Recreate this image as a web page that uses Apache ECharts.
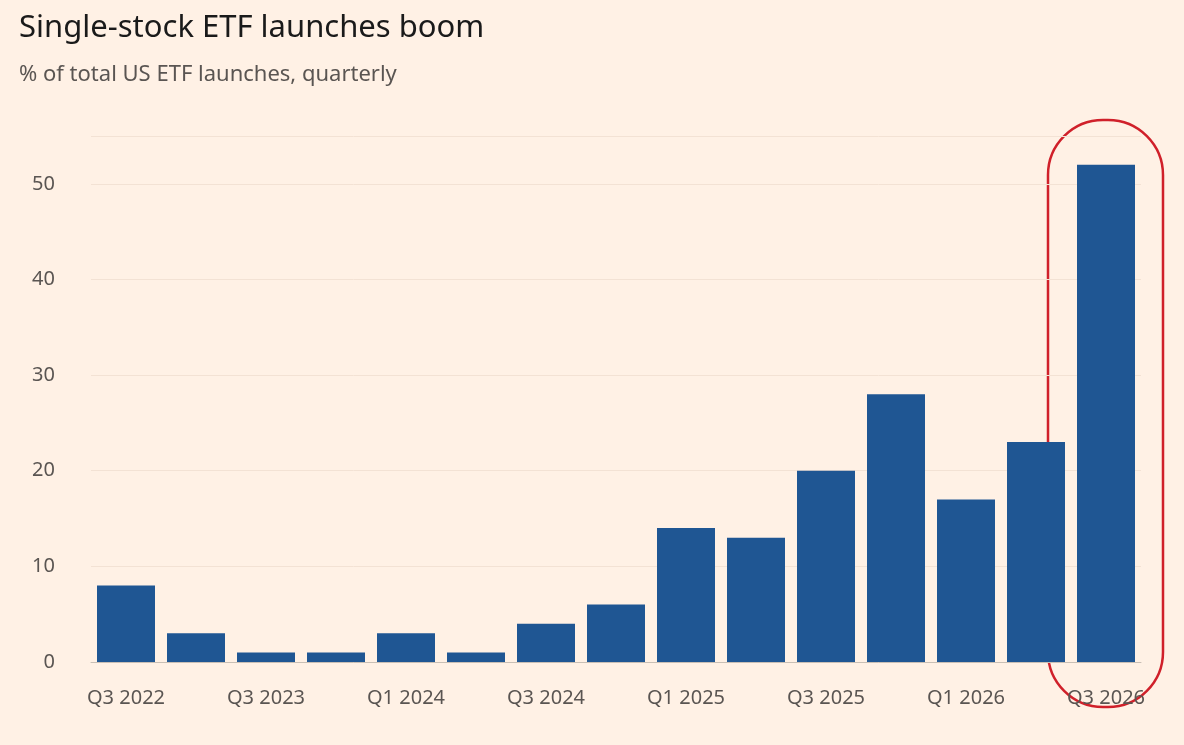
<!DOCTYPE html>
<html><head><meta charset="utf-8">
<script src="https://cdn.jsdelivr.net/npm/echarts@6/dist/echarts.min.js"></script>
<style>html,body{margin:0;background:#FFF1E5}#c{width:1184px;height:745px}</style>
</head><body><div id="c"></div>
<script>
const categories=["Q3 2022","Q1 2023","Q3 2023","Q4 2023","Q1 2024","Q2 2024","Q3 2024","Q4 2024","Q1 2025","Q2 2025","Q3 2025","Q4 2025","Q1 2026","Q2 2026","Q3 2026"];
const values=[8,3,1,1,3,1,4,6,14,13,20,28,17,23,52];
const yTicks=[0,10,20,30,40,50];
const chart=echarts.init(document.getElementById('c'));
chart.setOption({
backgroundColor:'#FFF1E5',
textStyle:{fontFamily:'Noto Sans'},
title:{text:'Single-stock ETF launches boom',subtext:'% of total US ETF launches, quarterly',left:14,top:8,
 textStyle:{fontSize:31,fontWeight:'normal',color:'#1a1a1a'},subtextStyle:{fontSize:22,color:'#5a5552'},itemGap:20},
grid:{left:91,right:43,top:136,bottom:83},
xAxis:{type:'category',data:categories,axisTick:{show:false},axisLine:{lineStyle:{color:'#c9bfb5'}},
 axisLabel:{interval:1,fontSize:20,color:'#5a5552',margin:26}},
yAxis:{type:'value',min:0,max:55,interval:10,axisLabel:{fontSize:20,color:'#5a5552',margin:36,formatter:v=>yTicks.includes(v)?v:''},
 splitLine:{lineStyle:{color:'#f3e2d4'}}},
series:[{type:'bar',data:values,barWidth:58,itemStyle:{color:'#1F5693'}}],
graphic:[{type:'rect',shape:{x:1048,y:120,width:115,height:587,r:55},style:{fill:'none',stroke:'#d0202a',lineWidth:2.5}}]
});
</script></body></html>
